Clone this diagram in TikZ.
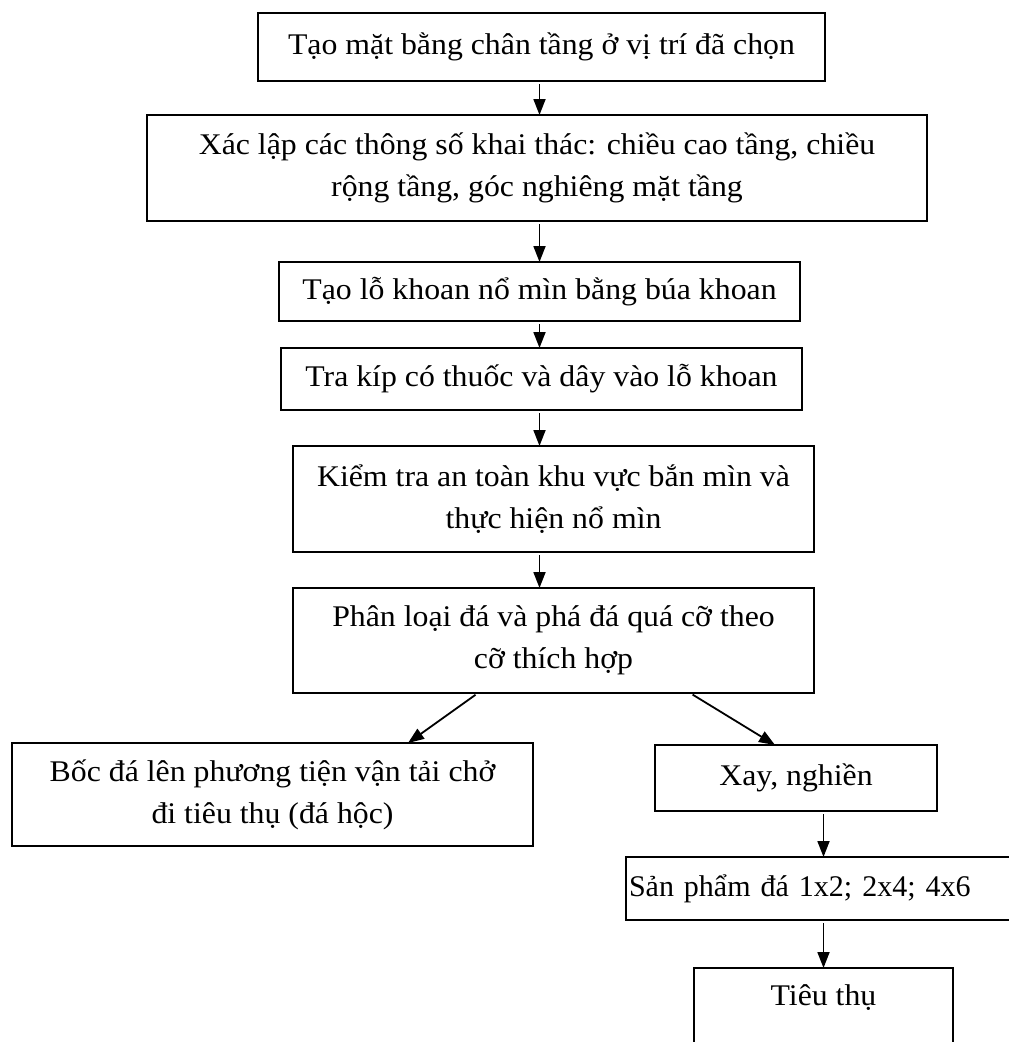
\documentclass[tikz,border=0pt]{standalone}
\usepackage{fontspec}
\setmainfont[FakeStretch=1.06]{Liberation Serif}
\newfontfamily\plainserif{Liberation Serif}
\usetikzlibrary{arrows.meta, positioning}

\begin{document}
\begin{tikzpicture}[
    x=1pt, y=-1pt,
    box/.style={rectangle, draw, line width=1.8pt, inner sep=0pt, outer sep=0pt, minimum width=521pt, align=center, font=\fontsize{30}{42}\selectfont},
    arrow/.style={-{Triangle[length=16pt, width=12pt]}, line width=1.8pt, shorten <=3pt}
]
\useasboundingbox (0,0) rectangle (1009,1042);

\node[box, minimum width=567pt, minimum height=68pt] (ground) at (541.5,47) {Tạo mặt bằng chân tầng ở vị trí đã chọn};
\node[box, minimum width=780pt, minimum height=106pt, below=34pt of ground, xshift=-4.5pt] (params) {Xác lập các thông số khai thác: chiều cao tầng, chiều\\rộng tầng, góc nghiêng mặt tầng};
\node[box, minimum height=59pt, below=41pt of params, xshift=2.5pt] (drill) {Tạo lỗ khoan nổ mìn bằng búa khoan};
\node[box, minimum height=62pt, below=27pt of drill, xshift=2pt] (charge) {Tra kíp có thuốc và dây vào lỗ khoan};
\node[box, minimum height=106pt, below=36pt of charge, xshift=12pt] (blast) {Kiểm tra an toàn khu vực bắn mìn và\\thực hiện nổ mìn};
\node[box, minimum height=105pt, below=36pt of blast] (sort) {Phân loại đá và phá đá quá cỡ theo\\cỡ thích hợp};
\node[box, minimum height=103pt, below=50pt of sort, xshift=-281pt] (haul) {Bốc đá lên phương tiện vận tải chở\\đi tiêu thụ (đá hộc)};
\node[box, minimum width=282pt, minimum height=66pt, below=52pt of sort, xshift=242.5pt] (crush) {Xay, nghiền};
\node[box, font=\plainserif\fontsize{30}{42}\selectfont, minimum width=386pt, minimum height=63pt, text width=380pt, align=left, inner xsep=3pt, below=46pt of crush, xshift=23pt] (product) {Sản phẩm đá 1x2; 2x4; 4x6};
\node[box, minimum width=259pt, minimum height=77pt, text height=20pt, text depth=23pt, below=48pt of product, xshift=4.5pt] (sale) {Tiêu thụ};

\draw[arrow] (ground.south -| drill) -- (params.north -| drill);
\draw[arrow] (params.south -| drill) -- (drill.north);
\draw[arrow] (drill.south) -- (charge.north -| drill);
\draw[arrow] (charge.south -| drill) -- (blast.north -| drill);
\draw[arrow] (blast.south -| drill) -- (sort.north -| drill);
\draw[arrow] ([xshift=-75.5pt]sort.south) -- ([xshift=135.5pt]haul.north);
\draw[arrow] ([xshift=136.5pt]sort.south) -- ([xshift=-21pt]crush.north);
\draw[arrow] (crush.south -| sale) -- (product.north -| sale);
\draw[arrow] (product.south -| sale) -- (sale.north);

\end{tikzpicture}
\end{document}
